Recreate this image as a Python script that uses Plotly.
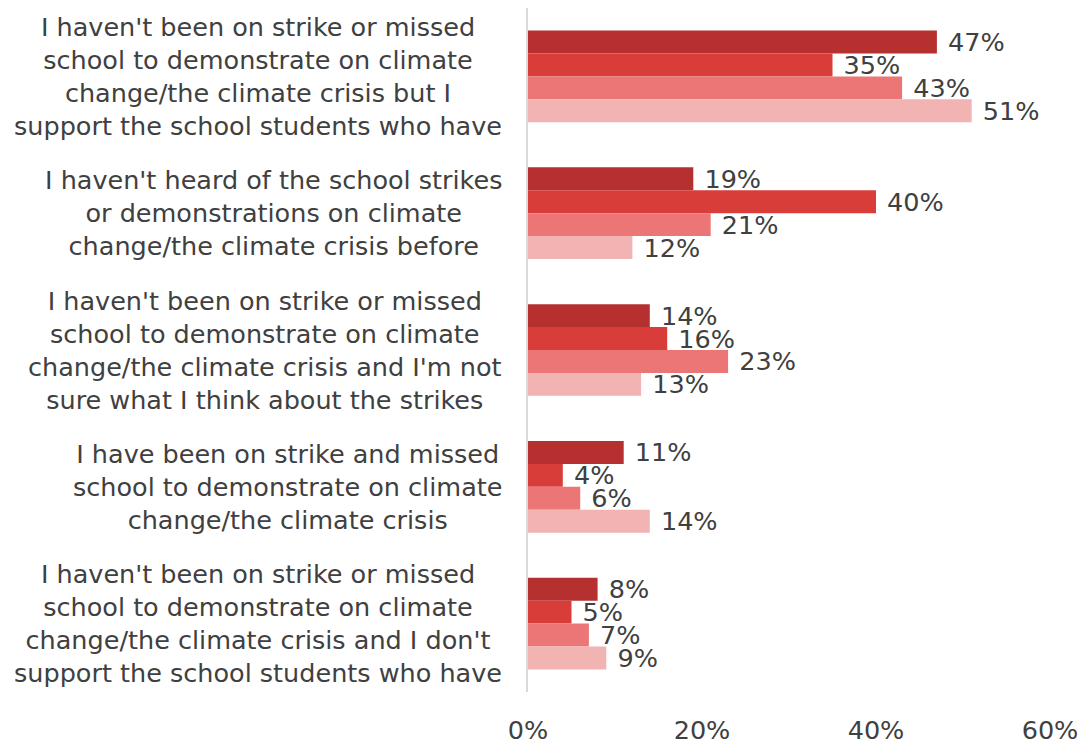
import plotly.graph_objects as go

categories = [
    "I haven't been on strike or missed<br>school to demonstrate on climate<br>change/the climate crisis but I<br>support the school students who have",
    "I haven't heard of the school strikes<br>or demonstrations on climate<br>change/the climate crisis before",
    "I haven't been on strike or missed<br>school to demonstrate on climate<br>change/the climate crisis and I'm not<br>sure what I think about the strikes",
    "I have been on strike and missed<br>school to demonstrate on climate<br>change/the climate crisis",
    "I haven't been on strike or missed<br>school to demonstrate on climate<br>change/the climate crisis and I don't<br>support the school students who have",
]
series_names = ["Series 1", "Series 2", "Series 3", "Series 4"]
series_values = [
    [47, 19, 14, 11, 8],
    [35, 40, 16, 4, 5],
    [43, 21, 23, 6, 7],
    [51, 12, 13, 14, 9],
]
colors = ["#B5302F", "#D93D3A", "#EC7676", "#F2B3B3"]
x_ticks = [0, 20, 40, 60]
x_tick_labels = ["0%", "20%", "40%", "60%"]

FONT = "DejaVu Sans"
TXT = "#404040"

fig = go.Figure()
for name, vals, col in zip(series_names, series_values, colors):
    fig.add_trace(go.Bar(
        y=list(range(len(categories))), x=vals, name=name, orientation="h",
        marker=dict(color=col, line=dict(width=0)),
        text=[f"\u00a0{v}%" for v in vals], textposition="outside",
        textfont=dict(family=FONT, size=25.5, color=TXT),
        constraintext="none", cliponaxis=False,
    ))

for i, c in enumerate(categories):
    fig.add_annotation(
        x=0, xref="paper", y=i, yref="y", text=c, showarrow=False,
        xanchor="right", yanchor="middle", align="center", xshift=-24,
        font=dict(family=FONT, size=25.5, color=TXT),
    )

fig.update_layout(
    width=1081, height=742,
    margin=dict(l=520, r=39, t=0, b=58, autoexpand=False),
    barmode="group", bargap=0.33, bargroupgap=0,
    showlegend=False,
    plot_bgcolor="white", paper_bgcolor="white",
    font=dict(family=FONT, color=TXT),
    uniformtext=dict(mode=False),
)
fig.update_xaxes(range=[0, 60], tickvals=x_ticks, ticktext=x_tick_labels,
                 showgrid=False, zeroline=False, showline=False,
                 tickfont=dict(family=FONT, size=25.5, color=TXT), ticklen=0,
                 ticklabelstandoff=20, automargin=False)
fig.update_yaxes(range=[len(categories) - 0.5, -0.5], showticklabels=False,
                 showgrid=False, zeroline=False, showline=True,
                 linecolor="#D9D9D9", linewidth=1.5, ticks="", automargin=False)

fig.write_html("out.html")
